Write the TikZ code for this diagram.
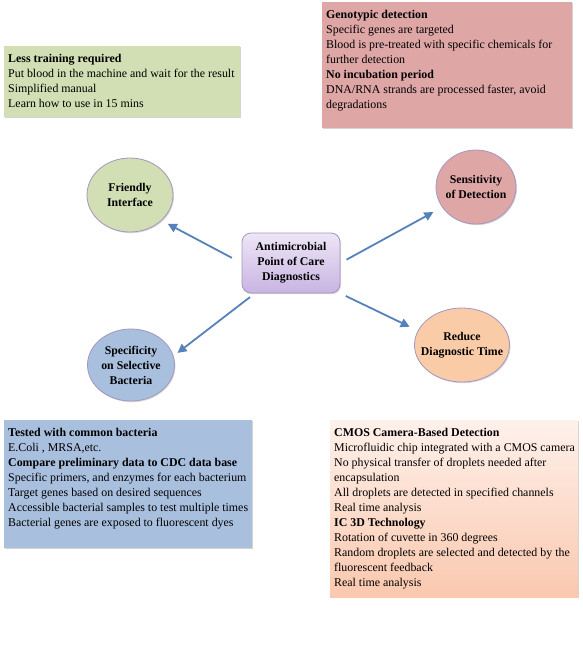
\documentclass[tikz,border=0pt]{standalone}
\usepackage{fontspec}
\setmainfont{Liberation Serif}
\usetikzlibrary{positioning, arrows.meta, shapes.geometric, shadows, calc}

\definecolor{boxgreen}{HTML}{D2DEB3}
\definecolor{boxred}{HTML}{DFA6A6}
\definecolor{boxblue}{HTML}{A9BFDE}
\definecolor{peachtop}{HTML}{FEF1EB}
\definecolor{peachbot}{HTML}{FAC8AE}
\definecolor{ellorange}{HTML}{FACBA7}
\definecolor{lavtop}{HTML}{EEE6F6}
\definecolor{lavbot}{HTML}{C8B4E2}
\definecolor{rimcol}{HTML}{A496C0}
\definecolor{arrowblue}{HTML}{5582BB}

\begin{document}
\begin{tikzpicture}[x=1pt, y=-1pt]
	\tikzset{
		infobox/.style={draw=none, anchor=north west, inner sep=0pt,
			drop shadow={opacity=0.35, shadow xshift=1.2pt, shadow yshift=-1.2pt}},
		infotext/.style={anchor=north west, align=left, inner xsep=4pt, inner ysep=8pt,
			font=\fontsize{11.9}{15}\selectfont},
		topic/.style={ellipse, draw=rimcol, line width=0.8pt, align=center, inner xsep=-8pt, inner ysep=0pt,
			font=\fontsize{11.8}{15}\selectfont\bfseries,
			drop shadow={opacity=0.3, shadow xshift=1pt, shadow yshift=-1.2pt}},
		hub/.style={rectangle, rounded corners=9pt, draw=rimcol, line width=0.8pt, align=center,
			top color=lavtop, bottom color=lavbot, minimum width=98pt, minimum height=60pt,
			font=\fontsize{11.8}{15}\selectfont\bfseries,
			drop shadow={opacity=0.3, shadow xshift=1pt, shadow yshift=-1.2pt}},
		spoke/.style={draw=arrowblue, line width=1.8pt, -{Triangle[length=9pt, width=9pt]}}
	}
	\useasboundingbox (0,0) rectangle (583,648);

	% boxes with the notes
	\node[infobox, fill=boxgreen, minimum width=236pt, minimum height=71pt] (trainbox) at (4,46) {};
	\node[infotext] (traintext) at (trainbox.north west)
		{\textbf{Less training required}\\
		Put blood in the machine and wait for the result\\
		Simplified manual\\
		Learn how to use in 15 mins};

	\node[infobox, fill=boxred, minimum width=250pt, minimum height=126pt] (genobox) at (322,2) {};
	\node[infotext] (genotext) at (genobox.north west)
		{\textbf{Genotypic detection}\\
		Specific genes are targeted\\
		Blood is pre-treated with specific chemicals for\\
		further detection\\
		\textbf{No incubation period}\\
		DNA/RNA strands are processed faster, avoid\\
		degradations};

	\node[infobox, fill=boxblue, minimum width=248pt, minimum height=128pt] (testbox) at (4,420) {};
	\node[infotext] (testtext) at (testbox.north west)
		{\textbf{Tested with common bacteria}\\
		E.Coli , MRSA,etc.\\
		\textbf{Compare preliminary data to CDC data base}\\
		Specific primers, and enzymes for each bacterium\\
		Target genes based on desired sequences\\
		Accessible bacterial samples to test multiple times\\
		Bacterial genes are exposed to fluorescent dyes};

	\node[infobox, top color=peachtop, bottom color=peachbot, minimum width=248pt, minimum height=177pt] (cmosbox) at (330,420) {};
	\node[infotext] (cmostext) at (cmosbox.north west)
		{\textbf{CMOS Camera-Based Detection}\\
		Microfluidic chip integrated with a CMOS camera\\
		No physical transfer of droplets needed after\\
		encapsulation\\
		All droplets are detected in specified channels\\
		Real time analysis\\
		\textbf{IC 3D Technology}\\
		Rotation of cuvette in 360 degrees\\
		Random droplets are selected and detected by the\\
		fluorescent feedback\\
		Real time analysis};

	% centre and the four topics
	\node[hub] (poc) at (291,263) {Antimicrobial\\Point of Care\\Diagnostics};

	\node[topic, fill=boxgreen, minimum width=86pt, minimum height=74pt] (friendly) at (130,195) {Friendly\\Interface};
	\node[topic, fill=boxred, minimum width=80pt, minimum height=74pt] (sensitive) at (476,187) {Sensitivity\\of Detection};
	\node[topic, fill=boxblue, minimum width=87pt, minimum height=72pt] (specific) at (131,365) {Specificity\\on Selective\\Bacteria};
	\node[topic, fill=ellorange, minimum width=95pt, minimum height=74pt] (reduce) at (462,345) {Reduce\\Diagnostic Time};

	% arrows
	\draw[spoke, shorten <=11pt, shorten >=7pt] (poc.west) -- (friendly.-39);
	\draw[spoke, shorten <=7pt, shorten >=10pt] (poc.east) -- (sensitive.-149);
	\draw[spoke, shorten <=6pt, shorten >=5pt] (poc.220) -- (specific.12);
	\draw[spoke, shorten <=6pt, shorten >=9pt] (poc.south east) -- (reduce.162);
\end{tikzpicture}
\end{document}
